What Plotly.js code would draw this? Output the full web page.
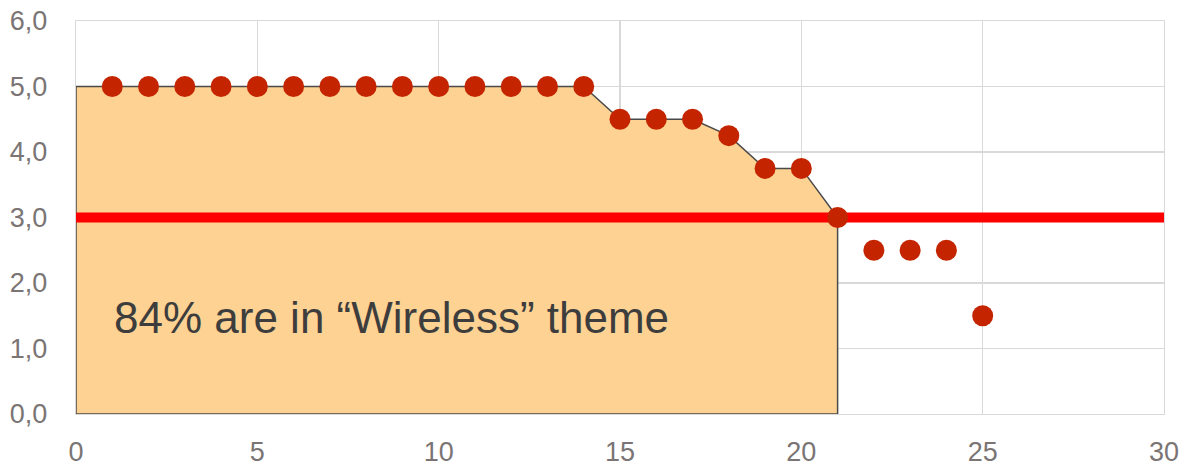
<!DOCTYPE html>
<html>
<head>
<meta charset="utf-8">
<script src="https://cdn.plot.ly/plotly-3.0.1.min.js"></script>
<style>html,body{margin:0;padding:0;background:#fff;}#chart{width:1192px;height:466px;}</style>
</head>
<body>
<div id="chart"></div>
<script>
// Data
var pointX = [1,2,3,4,5,6,7,8,9,10,11,12,13,14,15,16,17,18,19,20,21,22,23,24,25];
var pointY = [5,5,5,5,5,5,5,5,5,5,5,5,5,5,4.5,4.5,4.5,4.25,3.75,3.75,3.0,2.5,2.5,2.5,1.5];
var areaEndIndex = 21; // area covers points up to x = 21
var thresholdY = 3.0;
var xRange = [0, 30];
var yRange = [0, 6];
var xTicks = [0,5,10,15,20,25,30];
var yTicks = [0,1,2,3,4,5,6];
var annotationText = '84% are in \u201cWireless\u201d theme';

// Build area polygon from the data
var areaX = [0, 0];
var areaY = [0, pointY[0]];
for (var i = 0; i < pointX.length; i++) {
  if (pointX[i] <= areaEndIndex) { areaX.push(pointX[i]); areaY.push(pointY[i]); }
}
areaX.push(areaEndIndex); areaY.push(0);
areaX.push(0); areaY.push(0);

var traces = [
  {
    x: areaX, y: areaY, type: 'scatter', mode: 'lines',
    fill: 'toself', fillcolor: '#FDD293',
    line: {color: '#4a4a4a', width: 1.5},
    hoverinfo: 'skip', showlegend: false, cliponaxis: false
  },
  {
    x: xRange, y: [thresholdY, thresholdY], type: 'scatter', mode: 'lines',
    line: {color: '#FF0000', width: 10},
    hoverinfo: 'skip', showlegend: false
  },
  {
    x: pointX, y: pointY, type: 'scatter', mode: 'markers',
    marker: {color: '#C42500', size: 21, line: {width: 0}},
    showlegend: false
  }
];

var tickFont = {family: 'Liberation Sans, Arial, sans-serif', size: 27, color: '#7a7574'};

var layout = {
  width: 1192, height: 466,
  margin: {l: 76, r: 28, t: 21, b: 52},
  paper_bgcolor: '#ffffff', plot_bgcolor: '#ffffff',
  separators: ',.',
  showlegend: false,
  xaxis: {
    range: xRange, tickvals: xTicks, ticktext: xTicks.map(String),
    showgrid: true, gridcolor: '#d9d9d9', gridwidth: 1.3,
    zeroline: false, showline: true, linecolor: '#d9d9d9', linewidth: 1.3, mirror: true, ticks: '',
    tickfont: tickFont, ticklabelstandoff: 13
  },
  yaxis: {
    range: yRange, tickvals: yTicks, ticktext: yTicks.map(function(v){return v.toFixed(1).replace('.', ',');}),
    showgrid: true, gridcolor: '#d9d9d9', gridwidth: 1.3,
    zeroline: false, showline: true, linecolor: '#d9d9d9', linewidth: 1.3, mirror: true, ticks: '',
    tickfont: tickFont, ticklabelstandoff: 22
  },
  annotations: [{
    x: 1.0, y: 1.47, xref: 'x', yref: 'y', xanchor: 'left', yanchor: 'middle',
    text: annotationText, showarrow: false,
    font: {family: 'Liberation Sans, Arial, sans-serif', size: 44, color: '#3d3d3d'}
  }]
};

Plotly.newPlot('chart', traces, layout, {staticPlot: true, displayModeBar: false});
</script>
</body>
</html>
